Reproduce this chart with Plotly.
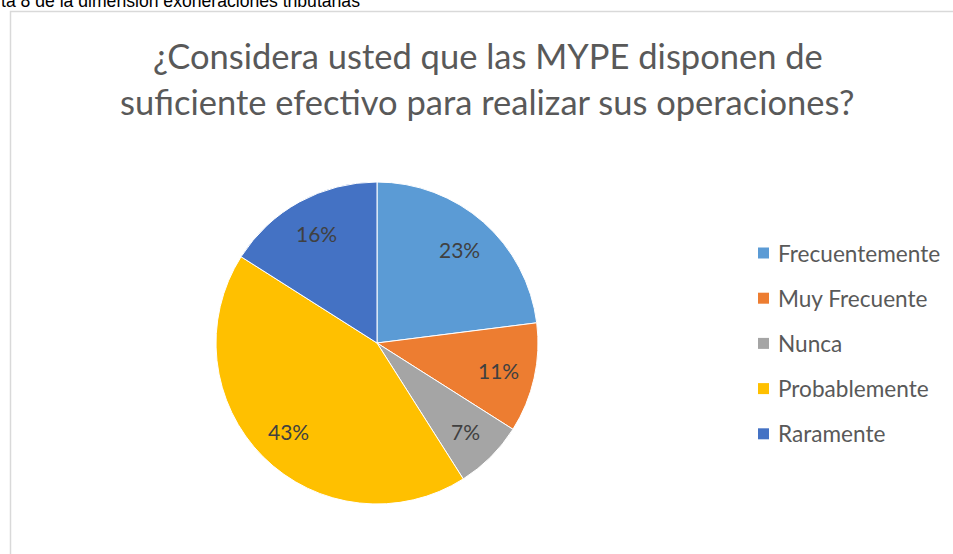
import math
import plotly.graph_objects as go

labels = ["Frecuentemente", "Muy Frecuente", "Nunca", "Probablemente", "Raramente"]
values = [23, 11, 7, 43, 16]
colors = ["#5B9BD5", "#ED7D31", "#A5A5A5", "#FFC000", "#4472C4"]
title_lines = ["¿Considera usted que las MYPE disponen de",
               "suficiente efectivo para realizar sus operaciones?"]
header_text = "ta 8 de la dimensión exoneraciones tributarias"

W, H = 953, 554
CX, CY, R = 377, 343, 161  # pie centre / radius in pixels

def px_x(x):
    return x / W

def px_y(y):
    return 1 - y / H

fig = go.Figure()
fig.add_trace(go.Pie(
    labels=labels, values=values, sort=False, direction="clockwise", rotation=0,
    marker=dict(colors=colors, line=dict(color="white", width=1)),
    textinfo="none",
    domain=dict(x=[px_x(CX - R), px_x(CX + R)], y=[px_y(CY + R), px_y(CY - R)]),
    showlegend=False, hoverinfo="label+percent",
))

shapes = [dict(type="rect", xref="paper", yref="paper",
               x0=px_x(10.5), x1=px_x(960), y0=px_y(570), y1=px_y(11.5),
               line=dict(color="#D9D9D9", width=1.5), fillcolor="rgba(0,0,0,0)")]
annotations = []

# data labels placed along each slice's mid-angle
total = sum(values)
cum = 0
for v in values:
    theta = 2 * math.pi * (cum + v / 2) / total
    cum += v
    lx = CX + 0.775 * R * math.sin(theta)
    ly = CY - 0.775 * R * math.cos(theta)
    annotations.append(dict(text=f"{round(100 * v / total)}%", xref="paper", yref="paper",
                            x=px_x(lx), y=px_y(ly), xanchor="center", yanchor="middle",
                            showarrow=False,
                            font=dict(family="Lato", size=21, color="#404040")))

# legend
for i, (lab, col) in enumerate(zip(labels, colors)):
    cy = 253 + i * 45.2
    shapes.append(dict(type="rect", xref="paper", yref="paper",
                       x0=px_x(758), x1=px_x(769), y0=px_y(cy + 5.5), y1=px_y(cy - 5.5),
                       fillcolor=col, line=dict(width=0)))
    annotations.append(dict(text=lab, xref="paper", yref="paper", x=px_x(776), y=px_y(cy),
                            xanchor="left", yanchor="middle", showarrow=False,
                            font=dict(family="Lato", size=22.6, color="#595959")))

# title (two lines)
for line, yc in zip(title_lines, [56, 101]):
    annotations.append(dict(text=line, xref="paper", yref="paper",
                            x=px_x(488), y=px_y(yc), xanchor="center", yanchor="middle",
                            showarrow=False,
                            font=dict(family="Lato", size=34.5, color="#595959")))

annotations.append(dict(text=header_text, xref="paper", yref="paper",
                        x=px_x(-1), y=px_y(1), xanchor="left", yanchor="middle",
                        showarrow=False,
                        font=dict(family="Liberation Sans", size=17.6, color="#000000")))

fig.update_layout(width=W, height=H, margin=dict(l=0, r=0, t=0, b=0),
                  paper_bgcolor="white", plot_bgcolor="white",
                  shapes=shapes, annotations=annotations)
fig.write_html("out.html", config={"displayModeBar": False},
               post_script="document.body.style.margin='0';")
